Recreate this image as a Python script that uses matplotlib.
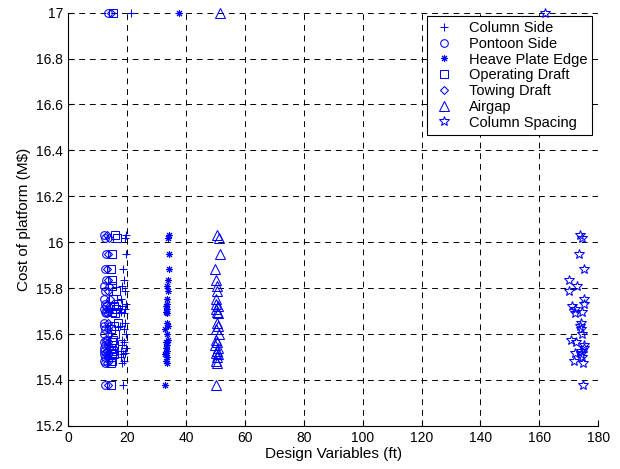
import matplotlib
matplotlib.use('Agg')
import matplotlib.pyplot as plt
from matplotlib.ticker import FormatStrFormatter

plt.rcParams['font.family'] = ['Liberation Sans', 'DejaVu Sans']

# cost of each design (M$), shared by every design variable
costs = [17.0, 16.03, 16.02, 15.947, 15.883, 15.837, 15.811, 15.788, 15.754, 15.733,
         15.724, 15.707, 15.695, 15.692, 15.646, 15.634, 15.620, 15.602, 15.576, 15.564,
         15.551, 15.540, 15.525, 15.518, 15.511, 15.501, 15.482, 15.475, 15.377]

column_side = [21.3, 19.6, 19.3, 19.6, 18.6, 19.0, 18.2, 19.4, 18.0, 19.6, 18.4, 19.2, 17.8, 18.8, 19.3,
               17.6, 18.9, 19.5, 18.1, 19.0, 18.3, 19.6, 18.0, 19.2, 18.6, 17.9, 19.0, 18.4, 18.6]
pontoon_side = [13.5, 12.1, 12.6, 12.8, 12.4, 12.9, 12.2, 12.6, 12.0, 12.4, 12.8, 12.1, 12.5, 12.9, 12.3,
                12.0, 12.6, 12.2, 12.8, 12.1, 12.5, 12.3, 12.0, 12.7, 12.2, 12.4, 12.1, 12.6, 12.6]
heave_plate = [37.6, 34.3, 34.0, 34.1, 34.2, 34.0, 33.6, 34.0, 33.4, 33.5, 33.2, 33.7, 33.3, 33.6, 33.4,
               33.8, 33.0, 33.5, 34.0, 33.2, 33.6, 33.1, 33.4, 33.3, 32.9, 33.5, 33.2, 33.4, 32.7]
operating_draft = [15.3, 15.9, 16.6, 14.8, 14.6, 15.0, 14.8, 16.2, 15.2, 17.0, 15.6, 16.4, 14.9, 15.8, 16.8,
                   15.4, 14.7, 16.0, 15.1, 14.8, 15.5, 14.6, 15.3, 14.9, 15.7, 14.8, 15.0, 14.7, 14.6]
towing_draft = [14.4, 13.3, 13.8, 13.5, 13.3, 13.6, 13.9, 13.4, 14.1, 13.2, 13.7, 13.5, 14.0, 13.3, 13.6,
                13.8, 13.4, 13.9, 13.2, 13.6, 13.5, 14.0, 13.3, 13.7, 13.4, 13.6, 13.8, 13.3, 13.4]
airgap = [51.7, 50.6, 51.2, 51.6, 50.0, 50.2, 50.4, 50.6, 50.1, 50.3, 50.8, 50.2, 50.5, 51.0, 50.4,
          50.7, 50.2, 51.2, 50.3, 50.6, 50.0, 50.8, 50.4, 50.2, 50.9, 50.5, 50.3, 50.6, 50.3]
column_spacing = [162.0, 173.7, 174.4, 173.4, 175.0, 170.1, 172.6, 170.2, 175.2, 175.0, 171.0, 172.0,
                  174.4, 172.0, 174.0, 173.8, 174.2, 174.6, 170.6, 172.4, 175.2, 175.0, 174.0, 172.1,
                  174.0, 174.4, 171.8, 174.8, 174.8]

series = [
    (column_side, '+', 6, 'Column Side'),
    (pontoon_side, 'o', 5.5, 'Pontoon Side'),
    (heave_plate, (8, 2, 0), 5, 'Heave Plate Edge'),
    (operating_draft, 's', 5.5, 'Operating Draft'),
    (towing_draft, 'D', 4.2, 'Towing Draft'),
    (airgap, '^', 6.5, 'Airgap'),
    (column_spacing, '*', 7, 'Column Spacing'),
]

fig = plt.figure(figsize=(6.2, 4.69), dpi=100)
ax = fig.add_axes([0.11, 0.092, 0.855, 0.881])

for xs, mk, ms, lab in series:
    ax.plot(xs, costs, linestyle='none', marker=mk, markersize=ms,
            markerfacecolor='none', markeredgecolor='blue', markeredgewidth=0.75,
            label=lab, clip_on=False)

ax.set_xlim(0, 180)
ax.set_ylim(15.2, 17)
ax.set_xticks(range(0, 181, 20))
ax.set_yticks([15.2 + 0.2 * i for i in range(10)])
ax.yaxis.set_major_formatter(FormatStrFormatter('%g'))
ax.tick_params(direction='in', labelsize=10, length=4, width=0.8)
ax.grid(True, color='black', linestyle=(0, (6, 5)), linewidth=0.7)
ax.spines['top'].set_visible(False)
ax.spines['right'].set_visible(False)

ax.set_xlabel('Design Variables (ft)', fontsize=11, labelpad=2)
ax.set_ylabel('Cost of platform (M$)', fontsize=11, labelpad=4)

leg = ax.legend(loc='upper right', bbox_to_anchor=(0.989, 0.992), borderaxespad=0,
                fontsize=10.5, fancybox=False, edgecolor='black', framealpha=1,
                handletextpad=0.9, labelspacing=0.12, borderpad=0.35, handlelength=1.6)
leg.get_frame().set_linewidth(0.8)
# markers sit on top of the legend box, as in the original
leg.set_zorder(1.8)

fig.savefig('out.png', dpi=100)
